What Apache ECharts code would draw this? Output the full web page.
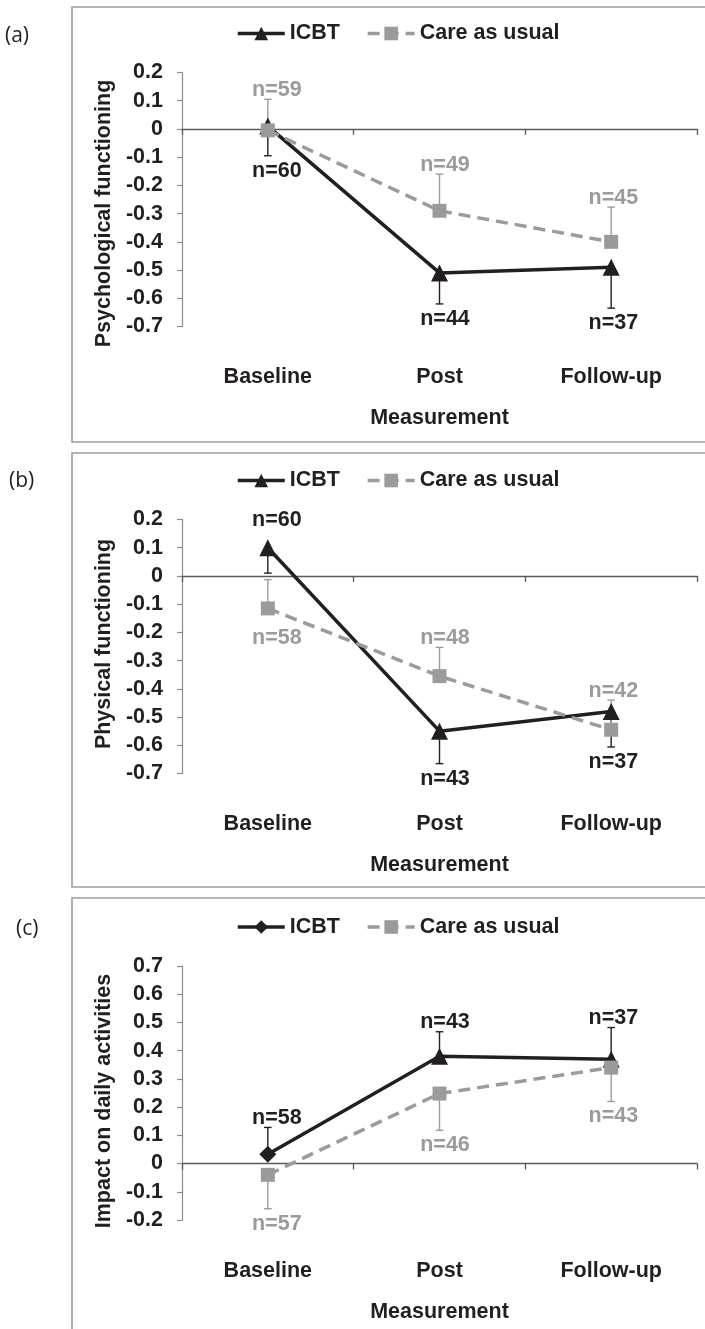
<!DOCTYPE html>
<html>
<head>
<meta charset="utf-8">
<script src="https://cdn.jsdelivr.net/npm/echarts@6/dist/echarts.min.js"></script>
<style>
  html, body { margin: 0; padding: 0; background: #ffffff; }
  #chart { width: 705px; height: 1329px; }
</style>
</head>
<body>
<div id="chart"></div>
<script>
// ---------------- DATA ----------------
const categories = ['Baseline', 'Post', 'Follow-up'];
const seriesNames = ['ICBT', 'Care as usual'];
const panelLetters = ['(a)', '(b)', '(c)'];
const yAxisTitles = ['Psychological functioning', 'Physical functioning', 'Impact on daily activities'];
const xAxisTitle = 'Measurement';

// (a) Psychological functioning
const psyIcbtMean = [0.01, -0.51, -0.49];
const psyIcbtErr  = [0.105, 0.11, 0.145];
const psyIcbtN    = [60, 44, 37];
const psyCauMean  = [-0.005, -0.29, -0.40];
const psyCauErr   = [0.11, 0.13, 0.123];
const psyCauN     = [59, 49, 45];

// (b) Physical functioning
const phyIcbtMean = [0.10, -0.55, -0.48];
const phyIcbtErr  = [0.09, 0.115, 0.126];
const phyIcbtN    = [60, 43, 37];
const phyCauMean  = [-0.115, -0.355, -0.545];
const phyCauErr   = [0.102, 0.102, 0.105];
const phyCauN     = [58, 48, 42];

// (c) Impact on daily activities
const impIcbtMean = [0.033, 0.38, 0.37];
const impIcbtErr  = [0.095, 0.087, 0.112];
const impIcbtN    = [58, 43, 37];
const impCauMean  = [-0.04, 0.248, 0.34];
const impCauErr   = [0.12, 0.13, 0.12];
const impCauN     = [57, 46, 43];

// y-axis ranges
const yRanges = [[-0.7, 0.2], [-0.7, 0.2], [-0.2, 0.7]];
const yStep = 0.1;

// ---------------- STYLE / LAYOUT ----------------
const FONT = '"Liberation Sans", Arial, Helvetica, sans-serif';
const FS = 21.5;
const DARK = '#231f20';
const GREY = '#9b9b9b';
const gridTops = [72.5, 519.5, 966];
const gridH = 254;
const gridLeft = 182, gridW = 515;
const frameTops = [7, 453, 898];
const frameBottoms = [442, 887, 1400];
const letterPos = [[5, 36], [9, 481], [16, 929]];
const labelDx = [9, 5.5, 2.2];
const yNamePad = [[0, 28, 0, 0], [0, 0, 0, 5], [0, 16, 0, 0]];

const panels = [
  { icbt: [psyIcbtMean, psyIcbtErr, psyIcbtN], cau: [psyCauMean, psyCauErr, psyCauN],
    icbtDir: -1, cauDir: 1, icbtSide: ['end','end','end'], cauSide: ['end','end','end'],
    icbtSymbols: ['triangle','triangle','triangle'], icbtName: 'ICBT' },
  { icbt: [phyIcbtMean, phyIcbtErr, phyIcbtN], cau: [phyCauMean, phyCauErr, phyCauN],
    icbtDir: -1, cauDir: 1, icbtSide: ['opposite','end','end'], cauSide: ['opposite','end','end'],
    icbtSymbols: ['triangle','triangle','triangle'], icbtName: 'ICBT' },
  { icbt: [impIcbtMean, impIcbtErr, impIcbtN], cau: [impCauMean, impCauErr, impCauN],
    icbtDir: 1, cauDir: -1, icbtSide: ['end','end','end'], cauSide: ['end','end','end'],
    icbtSymbols: ['diamond','triangle','triangle'], icbtName: 'ICBT\u200b' }
];

function errorSeries(g, vals, dir, color, sides) {
  const [means, errs, ns] = vals;
  return {
    type: 'custom',
    xAxisIndex: 2 * g, yAxisIndex: g,
    z: 1,
    silent: true,
    data: means.map((m, i) => [i, m, errs[i], ns[i]]),
    encode: { x: 0, y: 1 },
    renderItem: function (params, api) {
      const i = api.value(0), m = api.value(1), e = api.value(2), n = api.value(3);
      const p0 = api.coord([i, m]);
      const p1 = api.coord([i, m + dir * e]);
      const cap = 3.8;
      const side = sides[params.dataIndex];
      let ly;
      if (side === 'end') ly = dir > 0 ? p1[1] - 9.5 : p1[1] + 15;
      else ly = dir > 0 ? p0[1] + 30 : p0[1] - 28;
      return {
        type: 'group',
        children: [
          { type: 'line', shape: { x1: p0[0], y1: p0[1], x2: p1[0], y2: p1[1] },
            style: { stroke: color, lineWidth: 1.4 } },
          { type: 'line', shape: { x1: p1[0] - cap, y1: p1[1], x2: p1[0] + cap, y2: p1[1] },
            style: { stroke: color, lineWidth: 1.4 } },
          { type: 'text', x: p0[0] + labelDx[i], y: ly,
            style: { text: 'n=' + n, fill: color, font: 'bold ' + FS + 'px ' + FONT,
                     align: 'center', verticalAlign: 'middle' } }
        ]
      };
    }
  };
}

const grids = [], xAxes = [], yAxes = [], series = [], legends = [], graphics = [];

panels.forEach((p, g) => {
  grids.push({ left: gridLeft, top: gridTops[g], width: gridW, height: gridH, containLabel: false });
  // label axis (bottom, not on zero)
  xAxes.push({
    type: 'category', gridIndex: g, data: categories, position: 'bottom', boundaryGap: true,
    axisLine: { show: false, onZero: false }, axisTick: { show: false },
    axisLabel: { margin: 40, color: DARK, fontFamily: FONT, fontWeight: 'bold', fontSize: FS },
    name: xAxisTitle, nameLocation: 'middle', nameGap: 81,
    nameTextStyle: { color: DARK, fontFamily: FONT, fontWeight: 'bold', fontSize: FS }
  });
  // zero line axis
  xAxes.push({
    type: 'category', gridIndex: g, data: categories, position: 'bottom', boundaryGap: true,
    axisLine: { show: true, onZero: true, lineStyle: { color: '#5a5a5a', width: 1.3 } },
    axisTick: { show: true, length: 6, lineStyle: { color: '#5a5a5a', width: 1.3 } },
    axisLabel: { show: false }
  });
  yAxes.push({
    type: 'value', gridIndex: g, min: yRanges[g][0], max: yRanges[g][1], interval: yStep,
    axisLine: { show: true, onZero: false, lineStyle: { color: '#8c8c8c', width: 1.2 } },
    axisTick: { show: true, length: 5, lineStyle: { color: '#8c8c8c', width: 1.2 } },
    splitLine: { show: false },
    axisLabel: { margin: 19, color: DARK, fontFamily: FONT, fontWeight: 'bold', fontSize: FS },
    name: yAxisTitles[g], nameLocation: 'middle', nameGap: 57,
    nameTextStyle: { color: DARK, fontFamily: FONT, fontWeight: 'bold', fontSize: FS, padding: yNamePad[g] }
  });

  series.push(errorSeries(g, p.icbt, p.icbtDir, DARK, p.icbtSide));
  series.push(errorSeries(g, p.cau, p.cauDir, GREY, p.cauSide));

  const syms = p.icbtSymbols;
  series.push({
    name: p.icbtName, type: 'line', xAxisIndex: 2 * g, yAxisIndex: g, z: 3,
    data: p.icbt[0].map((v, i) => ({ value: v, symbol: syms[i] })),
    symbol: syms[0], symbolSize: 17,
    itemStyle: { color: DARK },
    lineStyle: { color: DARK, width: 3.5 },
    silent: true
  });
  series.push({
    name: seriesNames[1], type: 'line', xAxisIndex: 2 * g, yAxisIndex: g, z: 4,
    data: p.cau[0], symbol: 'rect', symbolSize: 14,
    itemStyle: { color: GREY },
    lineStyle: { color: GREY, width: 3.5, type: [12, 7] },
    silent: true
  });

  legends.push({
    data: [p.icbtName, seriesNames[1]],
    left: 236, top: gridTops[g] - 39 - 11, padding: 0,
    itemWidth: 47, itemHeight: 17, itemGap: 26,
    selectedMode: false,
    lineStyle: { width: 3.5 },
    textStyle: { color: DARK, fontFamily: FONT, fontWeight: 'bold', fontSize: FS }
  });

  graphics.push({
    type: 'rect', silent: true, z: 0,
    shape: { x: 72, y: frameTops[g], width: 700, height: frameBottoms[g] - frameTops[g] },
    style: { fill: 'none', stroke: '#9d9d9d', lineWidth: 1.6 }
  });
  graphics.push({
    type: 'text', silent: true, z: 10,
    x: letterPos[g][0], y: letterPos[g][1],
    style: { text: panelLetters[g], fill: DARK, font: '21px "Open Sans", "Noto Sans", sans-serif',
             align: 'left', verticalAlign: 'middle' }
  });
});

const chart = echarts.init(document.getElementById('chart'), null, { renderer: 'canvas' });
chart.setOption({
  animation: false,
  backgroundColor: '#ffffff',
  grid: grids,
  xAxis: xAxes,
  yAxis: yAxes,
  legend: legends,
  series: series,
  graphic: graphics
});
</script>
</body>
</html>
